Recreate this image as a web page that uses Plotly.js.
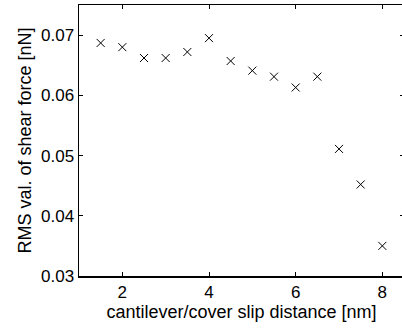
<!DOCTYPE html>
<html>
<head>
<meta charset="utf-8">
<script src="https://cdn.plot.ly/plotly-3.0.1.min.js"></script>
<style>
html,body{margin:0;padding:0;overflow:hidden;background:#fff;}
#chart{width:406px;height:330px;}
</style>
</head>
<body>
<div id="chart"></div>
<script>
const distance = [1.5, 2, 2.5, 3, 3.5, 4, 4.5, 5, 5.5, 6, 6.5, 7, 7.5, 8];
const rmsShear = [0.0687, 0.0680, 0.0662, 0.0662, 0.0672, 0.0695, 0.0657, 0.0641, 0.0631, 0.0613, 0.0631, 0.0511, 0.0452, 0.0350];
const xTicks = [2, 4, 6, 8];
const yTicks = [0.03, 0.04, 0.05, 0.06, 0.07];
const yTickText = ['0.03', '0.04', '0.05', '0.06', '0.07'];

const tickFont = {family: 'Liberation Sans, Arial, sans-serif', size: 17, color: '#000'};
const titleFont = {family: 'Liberation Sans, Arial, sans-serif', size: 18, color: '#000'};

Plotly.newPlot('chart', [{
  x: distance,
  y: rmsShear,
  type: 'scatter',
  mode: 'markers',
  marker: {symbol: 'x-thin-open', size: 8, color: '#000', line: {width: 1, color: '#000'}},
  cliponaxis: false
}], {
  width: 406,
  height: 330,
  margin: {l: 79, r: 2, t: 5, b: 54},
  paper_bgcolor: '#fff',
  plot_bgcolor: '#fff',
  font: tickFont,
  showlegend: false,
  xaxis: {
    range: [1, 8.5],
    tickvals: xTicks,
    ticks: 'inside',
    ticklen: 4,
    tickwidth: 1,
    tickcolor: '#000',
    showline: true,
    linecolor: '#000',
    linewidth: 1.5,
    mirror: 'ticks',
    showgrid: false,
    zeroline: false,
    tickfont: tickFont,
    title: {text: 'cantilever/cover slip distance [nm]', font: titleFont, standoff: 2}
  },
  yaxis: {
    range: [0.03, 0.075],
    tickvals: yTicks,
    ticktext: yTickText,
    ticks: 'inside',
    ticklen: 4,
    tickwidth: 1,
    tickcolor: '#000',
    showline: true,
    linecolor: '#000',
    linewidth: 1.5,
    mirror: 'ticks',
    showgrid: false,
    zeroline: false,
    tickfont: tickFont,
    title: {text: 'RMS val. of shear force [nN]', font: titleFont, standoff: 4}
  }
}, {staticPlot: true, displayModeBar: false});
</script>
</body>
</html>
